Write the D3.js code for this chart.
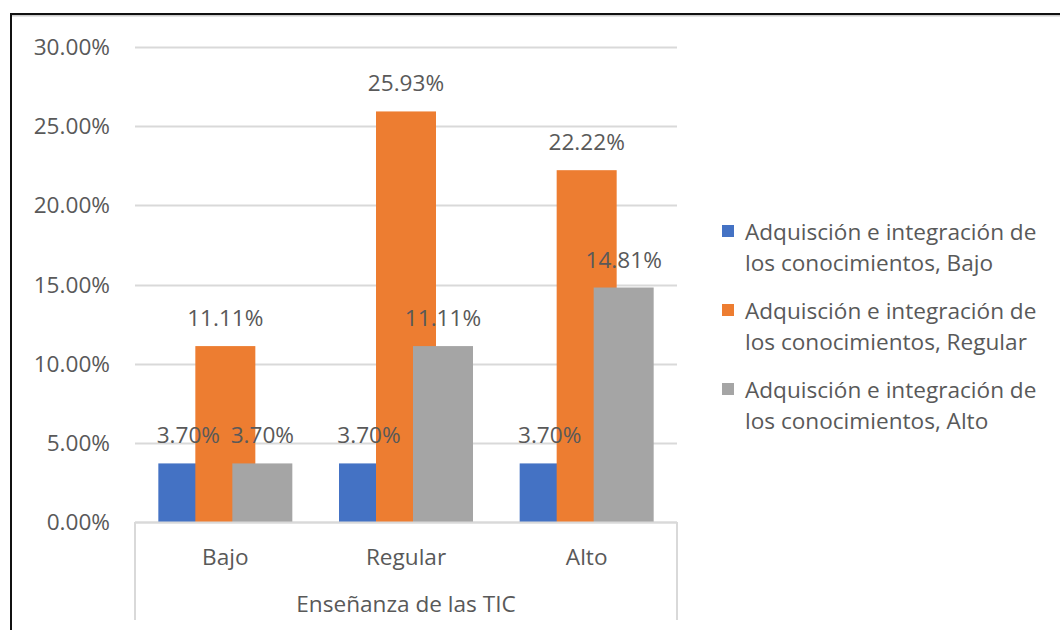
<!DOCTYPE html>
<html>
<head>
<meta charset="utf-8">
<script src="https://cdn.jsdelivr.net/npm/d3@7"></script>
<style>
  body { margin: 0; background: #fff; }
  svg text { font-family: "Open Sans", "Liberation Sans", sans-serif; fill: #595959; }
</style>
</head>
<body>
<svg width="1060" height="630"></svg>
<script>
let categories = ["Bajo", "Regular", "Alto"];
let seriesNames = [
    "Adquisción e integración de los conocimientos, Bajo",
    "Adquisción e integración de los conocimientos, Regular",
    "Adquisción e integración de los conocimientos, Alto"
];
let bajoValues = [3.70, 3.70, 3.70];
let regularValues = [11.11, 25.93, 22.22];
let altoValues = [3.70, 11.11, 14.81];
let yTicks = [0, 5, 10, 15, 20, 25, 30];
let colors = ["#4472C4", "#ED7D31", "#A5A5A5"];
let axisTitle = "Enseñanza de las TIC";

let series = [bajoValues, regularValues, altoValues];
let fontSize = "22.6px";

let svg = d3.select("svg");

// outer frame like the pasted picture
svg.append("line").attr("x1", 10).attr("x2", 1060).attr("y1", 15).attr("y2", 15)
    .attr("stroke", "#ccc").attr("stroke-width", 3);
svg.append("line").attr("x1", 10).attr("x2", 1060).attr("y1", 14).attr("y2", 14)
    .attr("stroke", "#111").attr("stroke-width", 2);
svg.append("line").attr("x1", 11).attr("x2", 11).attr("y1", 13).attr("y2", 630)
    .attr("stroke", "#111").attr("stroke-width", 2);

let plotLeft = 135, plotRight = 677, plotTop = 47, plotBottom = 522;

let x = d3.scaleBand().domain(categories).range([plotLeft, plotRight]);
let y = d3.scaleLinear().domain([0, 30]).range([plotBottom, plotTop]);

// gridlines
svg.append("g").selectAll("line")
    .data(yTicks)
    .enter().append("line")
    .attr("x1", plotLeft).attr("x2", plotRight)
    .attr("y1", d => Math.round(y(d)) + 0.5).attr("y2", d => Math.round(y(d)) + 0.5)
    .attr("stroke", "#D9D9D9").attr("stroke-width", 2);

// y labels
svg.append("g").selectAll("text")
    .data(yTicks)
    .enter().append("text")
    .attr("x", 110).attr("y", d => y(d) + 8)
    .attr("text-anchor", "end")
    .style("font-size", fontSize)
    .text(d => d.toFixed(2) + "%");

// bars: each series overlaps the previous one (overlap in excel)
let barW = 60, step = 37;
let groupW = 2 * step + barW;
series.forEach((vals, s) => {
    let g = svg.append("g");
    g.selectAll("rect")
        .data(vals)
        .enter().append("rect")
        .attr("x", (d, i) => x(categories[i]) + x.bandwidth() / 2 - groupW / 2 + s * step)
        .attr("width", barW)
        .attr("y", d => y(d))
        .attr("height", d => y(0) - y(d))
        .attr("fill", colors[s]);
});

// value labels
series.forEach((vals, s) => {
    svg.append("g").selectAll("text")
        .data(vals)
        .enter().append("text")
        .attr("x", (d, i) => x(categories[i]) + x.bandwidth() / 2 - groupW / 2 + s * step + barW / 2)
        .attr("y", d => y(d) - 20)
        .attr("text-anchor", "middle")
        .style("font-size", fontSize)
        .text(d => d.toFixed(2) + "%");
});

// category axis box
let axisG = svg.append("g").attr("fill", "none").attr("stroke", "#D9D9D9").attr("stroke-width", 2);
axisG.append("line").attr("x1", plotLeft).attr("x2", plotRight).attr("y1", plotBottom + 0.5).attr("y2", plotBottom + 0.5);
axisG.append("line").attr("x1", plotLeft).attr("x2", plotLeft).attr("y1", plotBottom).attr("y2", 620);
axisG.append("line").attr("x1", plotRight).attr("x2", plotRight).attr("y1", plotBottom).attr("y2", 620);

svg.append("g").selectAll("text")
    .data(categories)
    .enter().append("text")
    .attr("x", d => x(d) + x.bandwidth() / 2)
    .attr("y", 565)
    .attr("text-anchor", "middle")
    .style("font-size", fontSize)
    .text(d => d);

svg.append("text")
    .attr("x", (plotLeft + plotRight) / 2).attr("y", 612)
    .attr("text-anchor", "middle")
    .style("font-size", fontSize)
    .text(axisTitle);

// legend
let legend = svg.append("g").selectAll("g")
    .data(seriesNames)
    .enter().append("g")
    .attr("transform", (d, i) => "translate(722," + (225 + i * 79) + ")");
legend.append("rect")
    .attr("width", 12).attr("height", 12)
    .attr("fill", (d, i) => colors[i]);
legend.append("text")
    .attr("x", 23).attr("y", 15)
    .style("font-size", fontSize)
    .text(d => d.split(" los ")[0]);
legend.append("text")
    .attr("x", 23).attr("y", 46)
    .style("font-size", fontSize)
    .text(d => "los " + d.split(" los ")[1]);
</script>
</body>
</html>
